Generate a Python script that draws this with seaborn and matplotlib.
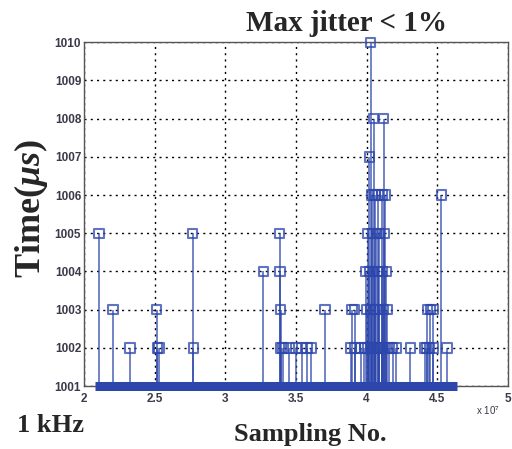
import matplotlib
matplotlib.use("Agg")
import matplotlib.pyplot as plt
import seaborn as sns
import pandas as pd

# Sampling number (x 10^7) and measured period (us) of the jitter samples
sample_no = [2.106, 2.205, 2.326, 2.515, 2.518, 2.530, 2.770, 2.773,
             3.270, 3.385, 3.388, 3.391, 3.394, 3.408, 3.450, 3.500, 3.543, 3.578, 3.606,
             3.706, 3.890, 3.897, 3.915, 3.918,
             4.030, 4.020, 4.050, 4.120,
             4.038, 4.060, 4.080, 4.110, 4.130,
             4.010, 4.040, 4.070, 4.090, 4.125,
             3.995, 4.020, 4.050, 4.080, 4.110, 4.140,
             4.000, 4.030, 4.060, 4.090, 4.115, 4.145,
             3.960, 3.985, 4.010, 4.035, 4.060, 4.085, 4.110, 4.135, 4.160, 4.185, 4.210,
             4.310, 4.430, 4.450, 4.470, 4.530, 4.410, 4.425, 4.445, 4.470, 4.570]
time_us = [1005, 1003, 1002, 1003, 1002, 1002, 1005, 1002,
           1004, 1005, 1004, 1003, 1002, 1002, 1002, 1002, 1002, 1002, 1002,
           1003, 1002, 1003, 1003, 1002,
           1010, 1007, 1008, 1008,
           1006, 1006, 1006, 1006, 1006,
           1005, 1005, 1005, 1005, 1005,
           1004, 1004, 1004, 1004, 1004, 1004,
           1003, 1003, 1003, 1003, 1003, 1003,
           1002, 1002, 1002, 1002, 1002, 1002, 1002, 1002, 1002, 1002, 1002,
           1002, 1003, 1003, 1003, 1006, 1002, 1002, 1002, 1002, 1002]
# span of the nominal (1001 us) samples
nominal_span = [2.08, 4.64]
nominal_value = 1001

x_ticks = [2, 2.5, 3, 3.5, 4, 4.5, 5]
x_tick_labels = ["2", "2.5", "3", "3.5", "4", "4.5", "5"]
y_ticks = [1001, 1002, 1003, 1004, 1005, 1006, 1007, 1008, 1009, 1010]

df = pd.DataFrame({"sample": sample_no, "time": time_us})

sns.set_style("white")
plt.rcParams["mathtext.fontset"] = "custom"
plt.rcParams["mathtext.it"] = "Liberation Serif:italic:bold"
plt.rcParams["mathtext.rm"] = "Liberation Serif:bold"

blue = "#2c46ac"
fig = plt.figure(figsize=(5.12, 4.49), dpi=100)
ax = fig.add_axes([0.164, 0.140, 0.828, 0.766])

ax.grid(True, color="black", linestyle=(0, (1.5, 3)), linewidth=1.0)
ax.set_axisbelow(True)

ax.vlines(df["sample"], nominal_value, df["time"], color=blue, linewidth=1.1, alpha=0.85, zorder=3)
sns.scatterplot(data=df, x="sample", y="time", marker="s", s=45,
                facecolor="none", edgecolor=blue, linewidth=1.5, alpha=0.75,
                ax=ax, zorder=4, legend=False, clip_on=False)
ax.hlines(nominal_value, nominal_span[0], nominal_span[1], color=blue,
          linewidth=6.5, zorder=5, clip_on=False)

ax.set_xlim(2, 5)
ax.set_ylim(1001, 1010)
ax.set_xticks(x_ticks)
ax.set_xticklabels(x_tick_labels)
ax.set_yticks(y_ticks)
ax.tick_params(axis="both", direction="in", length=0, labelsize=8.5, pad=2,
               labelcolor="#3a3a4a")
ax.tick_params(axis="x", pad=5)
for lab in ax.get_xticklabels() + ax.get_yticklabels():
    lab.set_fontweight("bold")
    lab.set_fontfamily("Liberation Sans")
for sp in ax.spines.values():
    sp.set_color("#555555")
    sp.set_linewidth(1.0)

ax.set_xlabel("")
ax.set_ylabel("")

serif = "Liberation Serif"
fig.text(0.676, 0.948, "Max jitter < 1%", fontsize=21, fontweight="bold",
         family=serif, ha="center", va="center")
fig.text(0.605, 0.033, "Sampling No.", fontsize=19, fontweight="bold",
         family=serif, ha="center", va="center")
fig.text(0.033, 0.053, "1 kHz", fontsize=19, fontweight="bold",
         family=serif, ha="left", va="center")
fig.text(0.060, 0.535, r"Time($\mu s$)", fontsize=26, fontweight="bold",
         family=serif, ha="center", va="center", rotation=90)
fig.text(0.930, 0.085, r"x 10$^{7}$", fontsize=7, color="#3a3a4a",
         family="Liberation Sans", ha="left", va="center")

fig.savefig("out.png", dpi=100)
